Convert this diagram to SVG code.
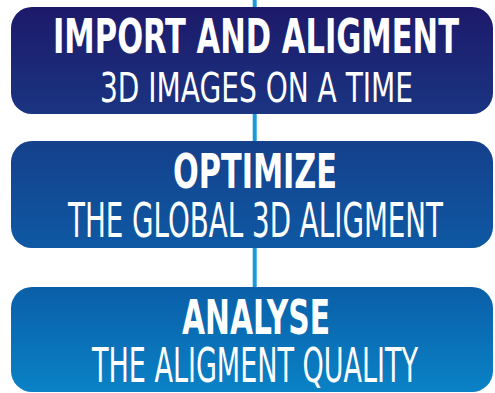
<svg xmlns="http://www.w3.org/2000/svg" width="495" height="393" viewBox="0 0 495 393">
  <defs>
    <!-- one continuous gradient shared by all three steps -->
    <linearGradient id="stepFill" gradientUnits="userSpaceOnUse" x1="0" y1="7" x2="0" y2="392">
      <stop offset="0" stop-color="#1d196a"/>
      <stop offset="0.28" stop-color="#1a3582"/>
      <stop offset="0.35" stop-color="#15408b"/>
      <stop offset="0.63" stop-color="#0e59a4"/>
      <stop offset="0.73" stop-color="#0a5fa8"/>
      <stop offset="1" stop-color="#0a82c6"/>
    </linearGradient>
  </defs>
  <style>
    .step { fill: url(#stepFill); }
    .link { stroke: #1a9bd8; stroke-width: 4; fill: none; }
    .title { font-family: "DejaVu Sans Condensed", "DejaVu Sans", sans-serif; font-stretch: condensed; font-weight: bold; fill: #ffffff; text-anchor: middle; }
    .sub { font-family: "DejaVu Sans Condensed", "DejaVu Sans", sans-serif; font-stretch: condensed; font-weight: normal; fill: #ffffff; text-anchor: middle; }
  </style>

  <g id="connectors">
    <line class="link" x1="254.7" y1="0" x2="254.7" y2="8"/>
    <line class="link" x1="254.7" y1="113" x2="254.7" y2="142"/>
    <line class="link" x1="254.7" y1="247" x2="254.7" y2="288"/>
  </g>

  <g id="step-import">
    <rect class="step" x="11" y="7" width="482" height="107" rx="21" ry="21"/>
    <text class="title" x="256" y="53" font-size="48" textLength="406" lengthAdjust="spacingAndGlyphs">IMPORT AND ALIGMENT</text>
    <text class="sub" x="256.5" y="102" font-size="41" textLength="313" lengthAdjust="spacingAndGlyphs">3D IMAGES ON A TIME</text>
  </g>

  <g id="step-optimize">
    <rect class="step" x="11" y="141" width="482" height="107" rx="21" ry="21"/>
    <text class="title" x="255" y="188" font-size="48" textLength="164" lengthAdjust="spacingAndGlyphs">OPTIMIZE</text>
    <text class="sub" x="255.5" y="237" font-size="48" textLength="375" lengthAdjust="spacingAndGlyphs">THE GLOBAL 3D ALIGMENT</text>
  </g>

  <g id="step-analyse">
    <rect class="step" x="11" y="287" width="482" height="105" rx="21" ry="21"/>
    <text class="title" x="256" y="334" font-size="48" textLength="148" lengthAdjust="spacingAndGlyphs">ANALYSE</text>
    <text class="sub" x="255" y="382" font-size="48" textLength="326" lengthAdjust="spacingAndGlyphs">THE ALIGMENT QUALITY</text>
  </g>
</svg>
